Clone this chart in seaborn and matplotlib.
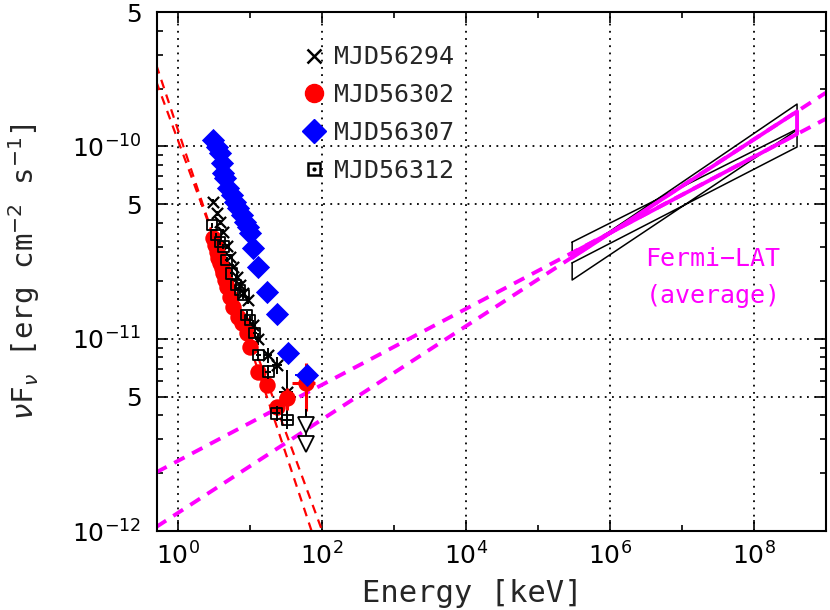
import numpy as np
import pandas as pd
import matplotlib
matplotlib.use("Agg")
import matplotlib.pyplot as plt
from matplotlib.lines import Line2D
from matplotlib.legend_handler import HandlerTuple
from matplotlib.ticker import FixedLocator, FixedFormatter, NullFormatter
import seaborn as sns

# ---- X-ray spectra (energy [keV], nuFnu [erg cm-2 s-1]) ----
mjd56294_E = [3.09, 3.45, 3.83, 4.26, 4.75, 5.28, 5.86, 6.52, 7.25, 8.07, 9.47, 11.1, 13.0, 17.9, 23.9, 32.3]
mjd56294_F = [5.16e-11, 4.49e-11, 4.04e-11, 3.60e-11, 3.03e-11, 2.67e-11, 2.37e-11, 2.10e-11,
              1.90e-11, 1.72e-11, 1.59e-11, 1.18e-11, 1.00e-11, 8.23e-12, 7.30e-12, 5.30e-12]
mjd56294_dF = [0.03, 0.03, 0.03, 0.03, 0.03, 0.03, 0.03, 0.04, 0.04, 0.04, 0.05, 0.06, 0.07, 0.09, 0.10, 0.30]
mjd56294_dE = [0.03, 0.03, 0.03, 0.03, 0.03, 0.03, 0.04, 0.04, 0.04, 0.05, 0.06, 0.08, 0.10, 0.12, 0.15, 0.22]

mjd56302_E = [3.09, 3.26, 3.45, 3.63, 3.83, 4.05, 4.26, 4.49, 4.75, 5.28, 5.86, 6.88, 7.67, 9.0, 10.0,
              13.0, 17.1, 23.5, 33.0, 60.0]
mjd56302_F = [3.33e-11, 3.07e-11, 2.83e-11, 2.62e-11, 2.47e-11, 2.32e-11, 2.19e-11, 2.02e-11, 1.86e-11,
              1.65e-11, 1.47e-11, 1.30e-11, 1.20e-11, 1.07e-11, 9.09e-12, 6.74e-12, 5.74e-12, 4.43e-12,
              4.90e-12, 5.86e-12]
mjd56302_dF = [0.03, 0.03, 0.03, 0.03, 0.03, 0.03, 0.03, 0.03, 0.03, 0.03, 0.04, 0.04, 0.04, 0.05, 0.05,
               0.06, 0.07, 0.08, 0.13, 0.28]
mjd56302_dE = [0.02, 0.02, 0.02, 0.02, 0.02, 0.02, 0.02, 0.03, 0.03, 0.03, 0.04, 0.04, 0.05, 0.05, 0.06,
               0.08, 0.10, 0.14, 0.24, 0.35]

mjd56307_E = [3.09, 3.45, 3.83, 4.05, 4.26, 4.49, 5.00, 5.57, 6.19, 6.88, 7.67, 8.53, 9.47, 10.0, 11.1,
              13.0, 17.1, 23.5, 34.0, 61.3]
mjd56307_F = [1.08e-10, 9.95e-11, 9.20e-11, 8.17e-11, 7.24e-11, 6.82e-11, 6.05e-11, 5.59e-11, 5.16e-11,
              4.77e-11, 4.40e-11, 4.06e-11, 3.82e-11, 3.53e-11, 2.95e-11, 2.37e-11, 1.75e-11, 1.35e-11,
              8.40e-12, 6.47e-12]
mjd56307_dF = [0.02, 0.02, 0.02, 0.02, 0.02, 0.02, 0.02, 0.02, 0.02, 0.02, 0.02, 0.03, 0.03, 0.03, 0.03,
               0.04, 0.04, 0.05, 0.07, 0.10]
mjd56307_dE = [0.02, 0.02, 0.02, 0.02, 0.02, 0.02, 0.03, 0.03, 0.03, 0.03, 0.03, 0.04, 0.04, 0.04, 0.05,
               0.06, 0.08, 0.10, 0.15, 0.30]

mjd56312_E = [2.97, 3.37, 3.83, 4.26, 4.75, 5.57, 6.38, 7.25, 8.07, 9.0, 10.0, 11.7, 13.0, 17.9, 23.5, 33.0]
mjd56312_F = [3.90e-11, 3.46e-11, 3.18e-11, 3.01e-11, 2.57e-11, 2.19e-11, 1.90e-11, 1.79e-11, 1.69e-11,
              1.33e-11, 1.25e-11, 1.07e-11, 8.23e-12, 6.74e-12, 4.09e-12, 3.78e-12]
mjd56312_dF = [0.03, 0.03, 0.03, 0.03, 0.03, 0.04, 0.04, 0.04, 0.05, 0.05, 0.05, 0.06, 0.07, 0.08, 0.09, 0.10]
mjd56312_dE = [0.03, 0.03, 0.03, 0.03, 0.04, 0.04, 0.04, 0.05, 0.05, 0.05, 0.06, 0.07, 0.08, 0.10, 0.13, 0.18]

# upper limits at the highest energy bin
ul_E = [61.0, 61.0]
ul_top = [4.3e-12, 4.3e-12]
ul_F = [3.55e-12, 2.85e-12]

# ---- power-law fits to the X-ray data (end points) ----
xfit_E = [0.5, 100.0]
xfit1_F = [2.65e-10, 6.9e-13]
xfit2_F = [2.17e-10, 1.01e-12]

# ---- Fermi-LAT bowties: shallow / steep lines at both energy ends ----
lat_E = [3.0e5, 4.0e8]
bow1_shallow = [3.18e-11, 1.23e-10]
bow1_steep = [2.66e-11, 1.66e-10]
bow2_shallow = [2.48e-11, 9.93e-11]
bow2_steep = [2.02e-11, 1.22e-10]
avg_shallow = [2.79e-11, 1.16e-10]
avg_steep = [2.64e-11, 1.52e-10]
# extrapolation of the average bowtie over the whole band
ext_E = [0.5, 1.0e9]
ext_shallow = [2.02e-12, 1.39e-10]
ext_steep = [1.05e-12, 1.90e-10]

labels = ["MJD56294", "MJD56302", "MJD56307", "MJD56312"]

sns.set_theme(style="ticks")
plt.rcParams["font.family"] = ["DejaVu Sans"]
plt.rcParams["mathtext.fontset"] = "dejavusans"

fig = plt.figure(figsize=(8.3, 6.1), dpi=100)
ax = fig.add_axes([0.1888, 0.1295, 0.806, 0.8508])
ax.set_xscale("log")
ax.set_yscale("log")
ax.set_xlim(0.506, 1.0e9)
ax.set_ylim(1e-12, 5e-10)


def line(E, F, **kw):
    sns.lineplot(x=E, y=F, ax=ax, sort=False, estimator=None, legend=False, **kw)


def bowtie(shallow, steep, **kw):
    xs = [lat_E[0], lat_E[1], lat_E[1], lat_E[0], lat_E[0]]
    ys = [shallow[0], shallow[1], steep[1], steep[0], shallow[0]]
    line(xs, ys, **kw)


# dashed model lines
line(xfit_E, xfit1_F, color="red", lw=1.6, dashes=(4, 3), zorder=2)
line(xfit_E, xfit2_F, color="red", lw=1.6, dashes=(4, 3), zorder=2)
line(ext_E, ext_shallow, color="magenta", lw=2.8, dashes=(3, 2.2), zorder=2)
line(ext_E, ext_steep, color="magenta", lw=2.8, dashes=(3, 2.2), zorder=2)

# bowties
bowtie(bow1_shallow, bow1_steep, color="black", lw=1.1, zorder=3)
bowtie(bow2_shallow, bow2_steep, color="black", lw=1.1, zorder=3)
bowtie(avg_shallow, avg_steep, color="magenta", lw=2.8, zorder=4)

series = [
    (mjd56294_E, mjd56294_F, mjd56294_dE, mjd56294_dF, "black", dict(marker="x", s=65, linewidth=1.6, color="black")),
    (mjd56302_E, mjd56302_F, mjd56302_dE, mjd56302_dF, "red", dict(marker="o", s=140, linewidth=0, color="red")),
    (mjd56307_E, mjd56307_F, mjd56307_dE, mjd56307_dF, "blue", dict(marker="D", s=140, linewidth=0, color="blue")),
    (mjd56312_E, mjd56312_F, mjd56312_dE, mjd56312_dF, "black", dict(marker="s", s=60, linewidth=1.3,
                                                                 facecolor="none", edgecolor="black")),
]
for i, (E, F, dE, dF, c, mk) in enumerate(series):
    E = np.array(E)
    F = np.array(F)
    ax.errorbar(E, F, xerr=E * np.array(dE), yerr=F * np.array(dF), fmt="none",
                ecolor=c, elinewidth=1.4 if c != "red" else 2.2, capsize=0, zorder=5 + i)
    df = pd.DataFrame({"E": E, "F": F})
    sns.scatterplot(data=df, x="E", y="F", ax=ax, zorder=5 + i, legend=False, **mk)

# upper limits
ax.vlines(ul_E, ul_F, ul_top, color="black", lw=1.3, zorder=9)
ax.plot(ul_E, ul_F, "v", ms=12, mfc="white", mec="black", mew=1.3, zorder=10)

ax.text(2.7e7, 2.09e-11, "Fermi\u2212LAT\n(average)", color="magenta", fontsize=18,
        family="DejaVu Sans Mono", ha="center", va="center", linespacing=1.7)

# axes styling
ax.xaxis.set_major_locator(FixedLocator([1e0, 1e2, 1e4, 1e6, 1e8]))
ax.xaxis.set_major_formatter(FixedFormatter([r"$10^{0}$", r"$10^{2}$", r"$10^{4}$", r"$10^{6}$", r"$10^{8}$"]))
ax.xaxis.set_minor_locator(FixedLocator([1e-1, 1e1, 1e3, 1e5, 1e7, 1e9]))
ax.xaxis.set_minor_formatter(NullFormatter())
yt = [1e-12, 5e-12, 1e-11, 5e-11, 1e-10, 5e-10]
ax.yaxis.set_major_locator(FixedLocator(yt))
ax.yaxis.set_major_formatter(FixedFormatter([r"$10^{-12}$", "5", r"$10^{-11}$", "5", r"$10^{-10}$", "5"]))
ax.yaxis.set_minor_locator(FixedLocator([k * 10.0 ** n for n in (-12, -11, -10) for k in (2, 3, 4, 6, 7, 8, 9)]))
ax.yaxis.set_minor_formatter(NullFormatter())

ax.tick_params(which="both", direction="in", top=True, right=True, colors="black", width=1.2)
ax.tick_params(which="major", length=8, labelsize=18)
ax.tick_params(axis="y", which="major", pad=11)
ax.tick_params(axis="x", which="major", pad=8)
ax.tick_params(which="minor", length=4.5)
for sp in ax.spines.values():
    sp.set_linewidth(1.5)
    sp.set_color("black")
ax.grid(True, which="major", color="black", ls=(0, (1, 3)), lw=1.3)
ax.set_facecolor("white")

ax.set_xlabel("Energy [keV]", fontsize=22, family="DejaVu Sans Mono")
ax.set_ylabel(r"$\nu$F$_\nu$ [erg cm$^{-2}$ s$^{-1}$]", fontsize=21, family="DejaVu Sans Mono")
ax.xaxis.set_label_coords(0.471, -0.092)
ax.yaxis.set_label_coords(-0.172, 0.5)

# legend
h_x = Line2D([], [], ls="none", marker="x", ms=10, mew=1.8, color="black")
h_o = Line2D([], [], ls="none", marker="o", ms=13, color="red")
h_d = Line2D([], [], ls="none", marker="D", ms=12, color="blue")
h_s = Line2D([], [], ls="none", marker="s", ms=9, mfc="none", mec="black", mew=1.8)
h_dot = Line2D([], [], ls="none", marker=".", ms=4, color="black")
ax.legend([h_x, h_o, h_d, (h_s, h_dot)], labels, handler_map={tuple: HandlerTuple(ndivide=1, pad=0)},
          loc="upper left", bbox_to_anchor=(0.198, 0.96), frameon=False, borderpad=0,
          handlelength=1.0, handletextpad=0.3, labelspacing=0.55,
          prop={"family": "DejaVu Sans Mono", "size": 18})

fig.savefig("out.png", dpi=100, facecolor="white")
